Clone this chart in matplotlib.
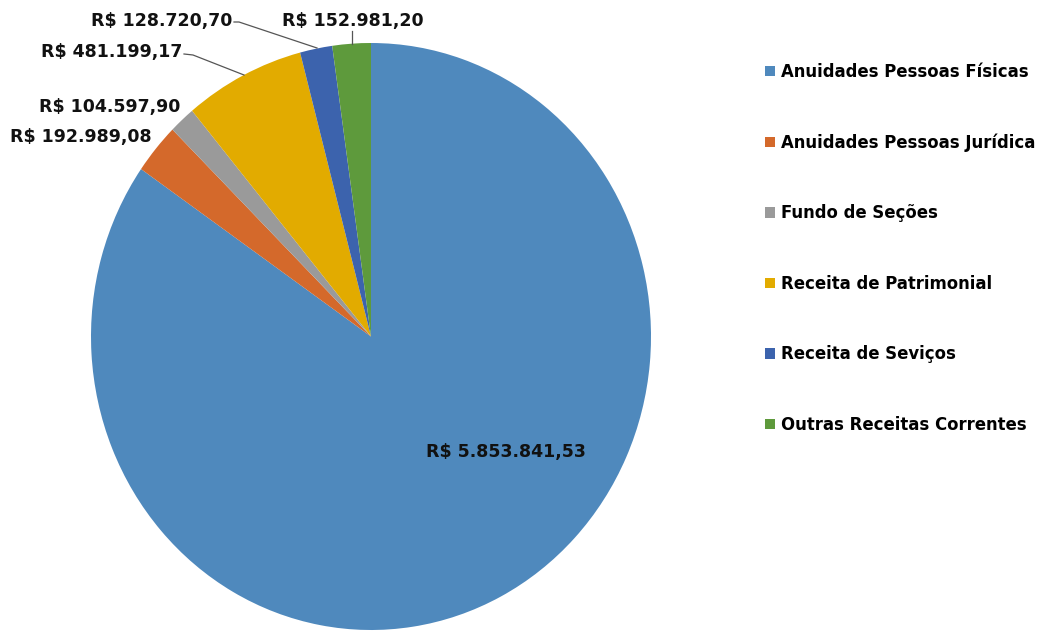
import matplotlib.pyplot as plt
from matplotlib.patches import Patch

categorias = ['Anuidades Pessoas Físicas', 'Anuidades Pessoas Jurídica', 'Fundo de Seções',
              'Receita de Patrimonial', 'Receita de Seviços', 'Outras Receitas Correntes']
valores = [5853841.53, 192989.08, 104597.90, 481199.17, 128720.70, 152981.20]
cores = ['#4F89BD', '#D4692B', '#9A9A9A', '#E2AB00', '#3C63AD', '#5E9A3C']


def brl(v):
    s = f'{v:,.2f}'.replace(',', 'X').replace('.', ',').replace('X', '.')
    return 'R$ ' + s


W, H = 1041, 631
fig = plt.figure(figsize=(W / 100, H / 100), dpi=100)
plt.rcParams['font.family'] = ['DejaVu Sans']

# pie is slightly taller than wide in the reference
cx, cy, rx, ry = 371, 336.5, 280, 293.5
ax = fig.add_axes([(cx - rx) / W, (H - cy - ry) / H, 2 * rx / W, 2 * ry / H])
ax.pie(valores, colors=cores, startangle=90, counterclock=False,
       wedgeprops=dict(linewidth=0))
ax.set_aspect('auto')
ax.set_xlim(-1, 1)
ax.set_ylim(-1, 1)
ax.axis('off')


def px(x, y):
    return ((x - cx) / rx, (cy - y) / ry)


fs = 12.5
kw = dict(fontsize=fs, fontweight='bold', color='#111111', va='center')

ax.text(*px(506, 452), brl(valores[0]), ha='center', **kw)
ax.text(*px(152, 137), brl(valores[1]), ha='right', **kw)
ax.text(*px(180, 107), brl(valores[2]), ha='right', **kw)
ax.text(*px(182, 52), brl(valores[3]), ha='right', **kw)
ax.text(*px(232, 21), brl(valores[4]), ha='right', **kw)
ax.text(*px(353, 21), brl(valores[5]), ha='center', **kw)

# leader lines
linhas = [
    [(184, 54), (193, 55), (244, 75)],
    [(234, 22), (239, 22), (317, 48)],
    [(352, 31), (352, 44)],
]
for pts in linhas:
    xs, ys = zip(*[px(x, y) for x, y in pts])
    ax.plot(xs, ys, color='#555555', lw=0.9, clip_on=False)

handles = [Patch(facecolor=c, edgecolor='none') for c in cores]
fig.legend(handles, categorias, loc='upper left', bbox_to_anchor=(758 / W, 1 - 56 / H),
           frameon=False, prop=dict(size=11.9, weight='bold'), labelspacing=3.18,
           handlelength=0.6, handleheight=0.6, handletextpad=0.4, borderaxespad=0)

fig.savefig('out.png', dpi=100)
